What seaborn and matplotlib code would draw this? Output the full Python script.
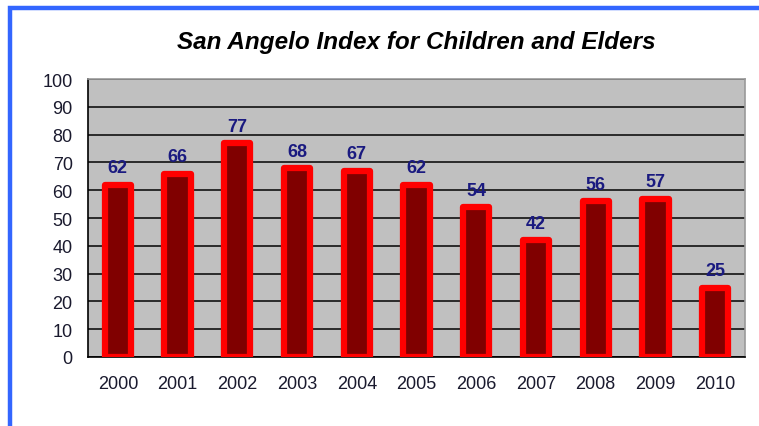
import matplotlib
matplotlib.use("Agg")
import matplotlib.pyplot as plt
import seaborn as sns
import pandas as pd
import numpy as np
from matplotlib.patches import Rectangle

years = ["2000", "2001", "2002", "2003", "2004", "2005", "2006", "2007", "2008", "2009", "2010"]
values = [62, 66, 77, 68, 67, 62, 54, 42, 56, 57, 25]
yticks = [0, 10, 20, 30, 40, 50, 60, 70, 80, 90, 100]
title = "San Angelo Index for Children and Elders"

sns.set_theme(style="white")
plt.rcParams['font.family'] = ['Liberation Sans', 'DejaVu Sans']

df = pd.DataFrame({"year": years, "value": values})

fig = plt.figure(figsize=(7.59, 4.27), dpi=100)
fig.patch.set_facecolor("white")
# blue frame (top and left)
fig.add_artist(Rectangle((10/759, -0.1), 1.2, (1 - 9/427) + 0.1, transform=fig.transFigure,
                         fill=False, edgecolor="#3366FF", linewidth=3.2))

ax = fig.add_axes([88/759, 1 - 358/427, (745 - 88)/759, (358 - 80)/427])
ax.set_facecolor("#C0C0C0")

sns.barplot(data=df, x="year", y="value", ax=ax, width=0.44, color="#800000",
            edgecolor="#FF0000", linewidth=4.5, saturation=1)
for p in ax.patches:
    p.set_joinstyle("round")
    p.set_zorder(3)

ax.set_ylim(0, 100)
ax.set_xlim(-0.5, len(years) - 0.5)
ax.set_yticks(yticks)
ax.set_yticklabels([str(t) for t in yticks], fontsize=13, color="#1a1a2e")
ax.yaxis.grid(True, color="#111111", linewidth=1.2, zorder=1)
ax.set_axisbelow(True)

ax.set_xticks(range(len(years)))
ax.set_xticklabels(years, fontsize=13, color="#1a1a2e")
ax.set_xticks(np.arange(-0.5, len(years), 1), minor=True)
ax.tick_params(axis="x", which="major", length=0, pad=13)
ax.tick_params(axis="x", which="minor", length=6, width=1.2, color="black", direction="out")
ax.tick_params(axis="y", which="major", length=6, width=1.2, color="black", direction="out", pad=5)

ax.set_xlabel("")
ax.set_ylabel("")

for s in ["left", "bottom"]:
    ax.spines[s].set_color("black")
    ax.spines[s].set_linewidth(1.2)
for s in ["top", "right"]:
    ax.spines[s].set_color("#999999")
    ax.spines[s].set_linewidth(1.2)

for i, v in enumerate(values):
    ax.text(i, v + 3.0, str(v), ha="center", va="bottom", fontsize=13,
            fontweight="bold", color="#1a1a80", zorder=5)

fig.text(416/759, 1 - 42/427, title, ha="center", va="center", fontsize=17.5,
         fontweight="bold", fontstyle="italic", color="black")

fig.savefig("out.png", dpi=100)
